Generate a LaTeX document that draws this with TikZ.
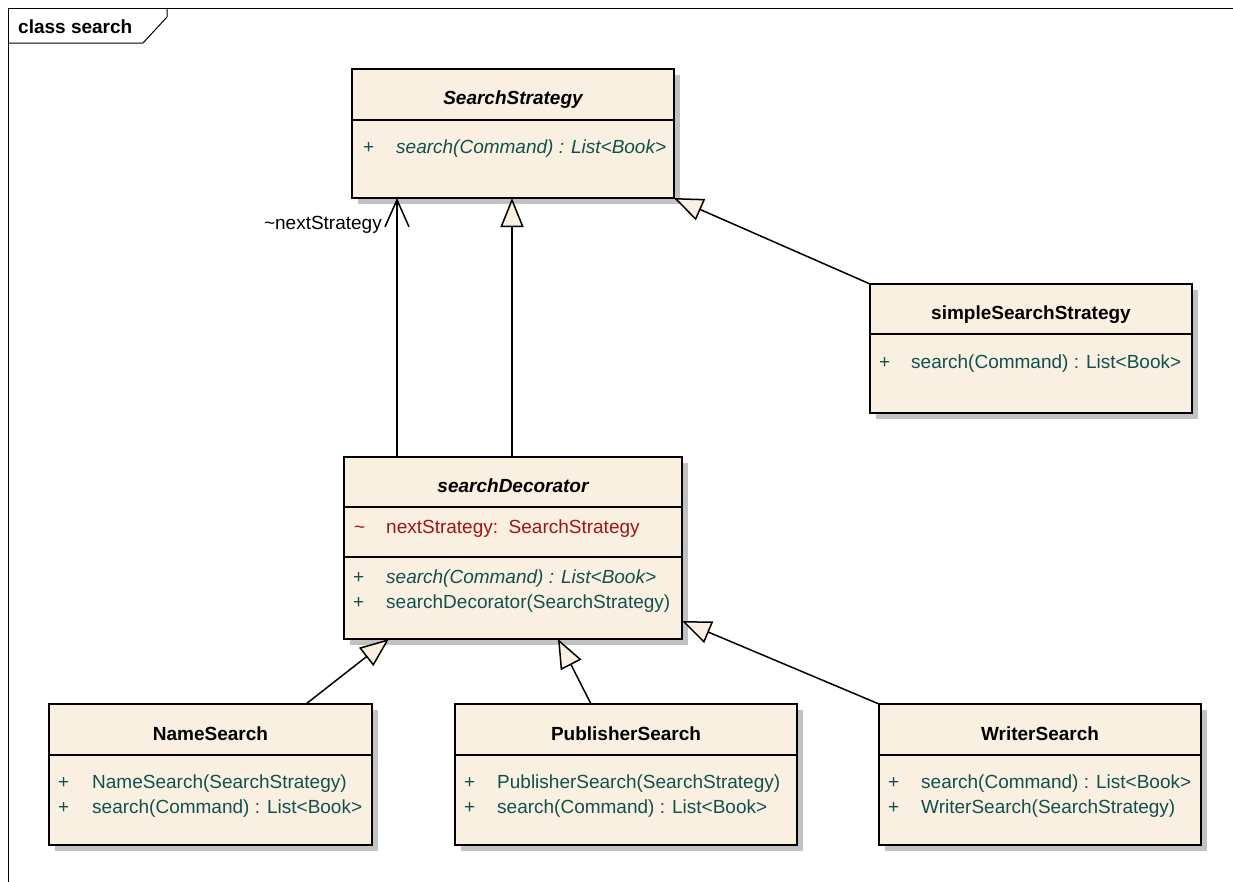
\documentclass[tikz,border=0pt]{standalone}
\usepackage{fontspec}
\setmainfont{Liberation Sans}
\usetikzlibrary{arrows.meta,calc,shadows}
\definecolor{cream}{RGB}{250,240,225}
\definecolor{teal}{RGB}{18,80,80}
\definecolor{dred}{RGB}{160,20,20}
\tikzset{
  classbox/.style={draw=black, line width=1.8pt, fill=cream, inner sep=0pt, outer sep=0pt,
    drop shadow={shadow xshift=6pt, shadow yshift=-6pt, fill=black!24, opacity=1}},
  divider/.style={line width=1.5pt},
  txt/.style={inner sep=0pt, text height=17pt, text depth=3pt},
  ttl/.style={txt, font=\fontsize{19}{22}\selectfont\bfseries},
  ttli/.style={txt, font=\fontsize{19}{22}\selectfont\bfseries\itshape},
  mth/.style={txt, anchor=west, text=teal, font=\fontsize{19}{22}\selectfont},
  mthi/.style={mth, font=\fontsize{19}{22}\selectfont\itshape},
  attr/.style={mth, text=dred},
  gen/.style={line width=1.5pt, -{Triangle[length=29pt, width=23pt, fill=cream]}},
  assoc/.style={line width=1.5pt, -{Straight Barb[length=27pt, width=24pt]}},
  lbl/.style={txt, font=\fontsize{19}{22}\selectfont}
}
\begin{document}
\begin{tikzpicture}[x=1pt,y=-1pt]
\useasboundingbox (0,0) rectangle (1233,881);
\fill[white] (0,0) rectangle (1233,881);
% frame
\draw[line width=1pt] (1240,8) -- (8,8) -- (8,890);
\draw[line width=1pt] (8,43) -- (143,43) -- (167,17) -- (167,8);
\node[ttl, anchor=west] (frm) at (18,26) {class search};

% classes
\node[classbox, minimum width=322pt, minimum height=129pt] (ss) at (513,133.5) {};
\node[classbox, minimum width=322pt, minimum height=129pt] (sss) at (1031,348.5) {};
\node[classbox, minimum width=338pt, minimum height=182pt] (sd) at (513,548) {};
\node[classbox, minimum width=323pt, minimum height=141pt] (ns) at (210.5,774.5) {};
\node[classbox, minimum width=342pt, minimum height=141pt] (ps) at (626,774.5) {};
\node[classbox, minimum width=322pt, minimum height=141pt] (ws) at (1040,774.5) {};

% dividers
\draw[divider] (ss.west |- 0,120) -- (ss.east |- 0,120);
\draw[divider] (sss.west |- 0,334) -- (sss.east |- 0,334);
\draw[divider] (sd.west |- 0,507) -- (sd.east |- 0,507);
\draw[divider] (sd.west |- 0,557) -- (sd.east |- 0,557);
\draw[divider] (ns.west |- 0,755) -- (ns.east |- 0,755);
\draw[divider] (ps.west |- 0,755) -- (ps.east |- 0,755);
\draw[divider] (ws.west |- 0,755) -- (ws.east |- 0,755);

% SearchStrategy
\node[ttli] (ssT) at (513,97) {SearchStrategy};
\node[mth] (ssP) at (363,146) {+};
\node[mthi] (ssM) at (396,146) {search(Command) : List<Book>};

% simpleSearchStrategy
\node[ttl] (sssT) at (1031,312) {simpleSearchStrategy};
\node[mth] (sssP) at (879,361) {+};
\node[mth] (sssM) at (911,361) {search(Command) : List<Book>};

% searchDecorator
\node[ttli] (sdT) at (513,485) {searchDecorator};
\node[attr] (sdV) at (354,526) {\textasciitilde};
\node[attr] (sdA) at (386,526) {nextStrategy:\ \ SearchStrategy};
\node[mth] (sdP1) at (353,576) {+};
\node[mthi] (sdM1) at (386,576) {search(Command) : List<Book>};
\node[mth] (sdP2) at (353,601) {+};
\node[mth] (sdM2) at (386,601) {searchDecorator(SearchStrategy)};

% NameSearch
\node[ttl] (nsT) at (210.5,733) {NameSearch};
\node[mth] (nsP1) at (58,781) {+};
\node[mth] (nsM1) at (92,781) {NameSearch(SearchStrategy)};
\node[mth] (nsP2) at (58,806) {+};
\node[mth] (nsM2) at (92,806) {search(Command) : List<Book>};

% PublisherSearch
\node[ttl] (psT) at (626,733) {PublisherSearch};
\node[mth] (psP1) at (464,781) {+};
\node[mth] (psM1) at (497,781) {PublisherSearch(SearchStrategy)};
\node[mth] (psP2) at (464,806) {+};
\node[mth] (psM2) at (497,806) {search(Command) : List<Book>};

% WriterSearch
\node[ttl] (wsT) at (1040,733) {WriterSearch};
\node[mth] (wsP1) at (888,781) {+};
\node[mth] (wsM1) at (921,781) {search(Command) : List<Book>};
\node[mth] (wsP2) at (888,806) {+};
\node[mth] (wsM2) at (921,806) {WriterSearch(SearchStrategy)};

% connectors
\draw[assoc] ($(sd.north west)+(53,0)$) -- ($(ss.south west)+(45,0)$);
\node[lbl, anchor=east] (al) at (382,222) {\textasciitilde nextStrategy};
\draw[gen] ($(sd.north west)+(168,0)$) -- ($(ss.south west)+(160,0)$);
\draw[gen] (sss.north west) -- (ss.south east);
\draw[gen] ($(ns.north west)+(257,0)$) -- ($(sd.south west)+(45,0)$);
\draw[gen] ($(ps.north west)+(136,0)$) -- ($(sd.south west)+(214,0)$);
\draw[gen] (ws.north west) -- ($(sd.south east)+(0,-18)$);
\end{tikzpicture}
\end{document}
